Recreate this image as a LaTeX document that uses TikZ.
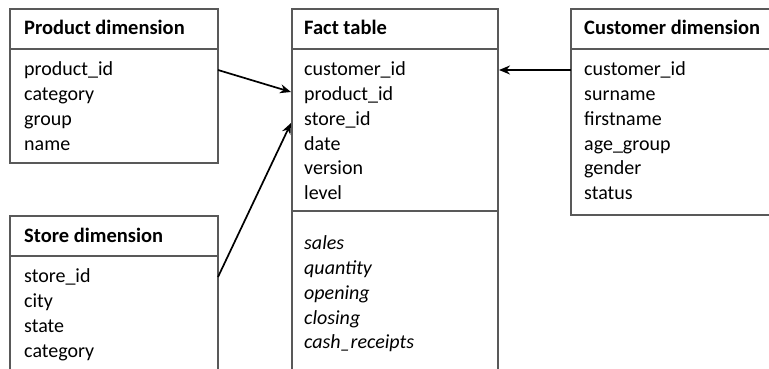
\documentclass[tikz,border=0pt]{standalone}
\usepackage{fontspec}
\setmainfont{Carlito}
\usetikzlibrary{arrows.meta}
\begin{document}
\begin{tikzpicture}[x=1pt,y=-1pt,
  boxline/.style={draw=black!65, line width=1.2pt},
  hdr/.style={anchor=base west, inner sep=0pt, font=\fontsize{20.5}{22}\selectfont\bfseries},
  fld/.style={anchor=base west, inner sep=0pt, font=\fontsize{20}{22}\selectfont},
  meas/.style={anchor=base west, inner sep=0pt, font=\fontsize{20}{22}\selectfont\itshape},
  conn/.style={line width=1.7pt, -{Stealth[length=11pt,width=9pt]}}]
\useasboundingbox (0,0) rectangle (769,369);
% boxes
\draw[boxline] (10,163) -- (10,9) -- (218,9) -- (218,163) -- cycle;
\draw[boxline] (10,49) -- (218,49);
\draw[boxline] (292,375) -- (292,9) -- (498,9) -- (498,375);
\draw[boxline] (292,49) -- (498,49);
\draw[boxline] (292,211) -- (498,211);
\draw[boxline] (775,215) -- (571,215) -- (571,9) -- (775,9);
\draw[boxline] (571,49) -- (775,49);
\draw[boxline] (10,375) -- (10,216) -- (218,216) -- (218,375);
\draw[boxline] (10,256) -- (218,256);
% product
\node[hdr] (ph) at (24,35) {Product dimension};
\node[fld] (p1) at (24,76) {product\_id};
\node[fld] (p2) at (24,101) {category};
\node[fld] (p3) at (24,125) {group};
\node[fld] (p4) at (24,150) {name};
% fact
\node[hdr] (fh) at (304,35) {Fact table};
\node[fld] (f1) at (304,76) {customer\_id};
\node[fld] (f2) at (304,101) {product\_id};
\node[fld] (f3) at (304,125) {store\_id};
\node[fld] (f4) at (304,150) {date};
\node[fld] (f5) at (304,174) {version};
\node[fld] (f6) at (304,199) {level};
\node[meas] (m1) at (304,249) {sales};
\node[meas] (m2) at (304,274) {quantity};
\node[meas] (m3) at (304,299) {opening};
\node[meas] (m4) at (304,324) {closing};
\node[meas] (m5) at (304,348) {cash\_receipts};
% customer
\node[hdr] (ch) at (584,35) {Customer dimension};
\node[fld] (c1) at (584,76) {customer\_id};
\node[fld] (c2) at (584,101) {surname};
\node[fld] (c3) at (584,125) {firstname};
\node[fld] (c4) at (584,150) {age\_group};
\node[fld] (c5) at (584,174) {gender};
\node[fld] (c6) at (584,199) {status};
% store
\node[hdr] (sh) at (24,242) {Store dimension};
\node[fld] (s1) at (24,282) {store\_id};
\node[fld] (s2) at (24,307) {city};
\node[fld] (s3) at (24,332) {state};
\node[fld] (s4) at (24,357) {category};
% connector endpoints
\coordinate (pa) at (218,70);
\coordinate (pb) at (291,92);
\coordinate (sa) at (218,277);
\coordinate (sb) at (291,123);
\coordinate (ca) at (571,70);
\coordinate (cb) at (499,70);
\draw[conn] (pa) -- (pb);
\draw[conn] (sa) -- (sb);
\draw[conn] (ca) -- (cb);
\end{tikzpicture}
\end{document}
